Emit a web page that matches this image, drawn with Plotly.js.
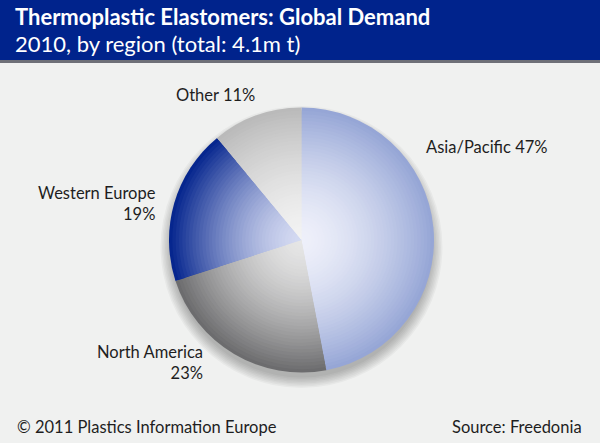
<!DOCTYPE html>
<html><head><meta charset="utf-8">
<script src="https://cdn.plot.ly/plotly-3.0.1.min.js"></script>
<style>html,body{margin:0;padding:0;background:#f0f1f0}</style>
</head><body>
<div id="chart" style="width:600px;height:443px"></div>
<script>
const regions = ["Asia/Pacific", "North America", "Western Europe", "Other"];
const shares = [47, 23, 19, 11];
const labelTexts = ["Asia/Pacific 47%", "North America<br>23%", "Western Europe<br>19%", "Other 11%"];

const W = 600, H = 443;
const cx = 301.5, cy = 240, R = 132.5;
const outerCols = [[150,166,214],[108,108,110],[6,38,142],[186,186,186]];
const innerCols = [[238,240,250],[230,230,230],[212,218,242],[242,242,242]];
const N = 40;
function mix(a,b,t){return 'rgb('+a.map((v,i)=>Math.round(v+(b[i]-v)*t)).join(',')+')';}
const traces = [];
for (let k = 0; k < N; k++) {
  const f = 1 - k / N;
  const r = R * f;
  const t = Math.pow(f, 1.6);
  traces.push({
    type: 'pie', labels: regions, values: shares, sort: false,
    direction: 'clockwise', rotation: 0,
    textinfo: 'none', hoverinfo: k === 0 ? 'label+percent' : 'skip',
    showlegend: false,
    marker: {colors: outerCols.map((o,i)=>mix(innerCols[i], o, t)), line: {width: 0}},
    domain: {x: [(cx - r) / W, (cx + r) / W], y: [(H - cy - r) / H, (H - cy + r) / H]}
  });
}
const shapes = [
  {type:'rect', xref:'paper', yref:'paper', x0:0, x1:1, y0:(H-63)/H, y1:(H-60)/H, fillcolor:'#6e7078', line:{width:0}, layer:'below'},
  {type:'rect', xref:'paper', yref:'paper', x0:0, x1:1, y0:(H-60)/H, y1:1, fillcolor:'#00238c', line:{width:0}, layer:'below'}
];
for (let s = 0; s < 8; s++) {
  const rr = R - 2 + s * 1.5, dy = 7;
  shapes.push({type:'circle', xref:'paper', yref:'paper', layer:'below',
    x0:(cx-rr)/W, x1:(cx+rr)/W, y0:(H-cy-dy-rr)/H, y1:(H-cy-dy+rr)/H,
    fillcolor:'rgba(0,0,0,0.035)', line:{width:0}});
}
const font = 'Lato, "Open Sans", sans-serif';
const ann = (text,x,y,xa,size,opts={}) => Object.assign({text, xref:'paper', yref:'paper', x:x/W, y:1-y/H, xanchor:xa, yanchor:'middle', showarrow:false, font:{family:font, size:size, color:'#1e1e1e'}}, opts);
const annotations = [
  ann('<b>Thermoplastic Elastomers: Global Demand</b>', 13, 17, 'left', 22, {font:{family:font,size:22,color:'#ffffff'}}),
  ann('2010, by region (total: 4.1m t)', 13, 44, 'left', 22, {font:{family:font,size:22,color:'#ffffff'}}),
  ann(labelTexts[0], 424, 147, 'left', 16.5),
  ann(labelTexts[1], 205, 362, 'right', 16.5, {align:'right'}),
  ann(labelTexts[2], 158, 203, 'right', 16.5, {align:'right'}),
  ann(labelTexts[3], 174, 95, 'left', 16.5),
  ann('© 2011 Plastics Information Europe', 15, 427, 'left', 16.5),
  ann('Source: Freedonia', 584, 427, 'right', 16.5)
];
Plotly.newPlot('chart', traces, {
  width: W, height: H, margin: {l:0, r:0, t:0, b:0},
  paper_bgcolor: '#f0f1f0', plot_bgcolor: '#f0f1f0',
  shapes, annotations, showlegend: false
}, {displayModeBar: false, staticPlot: true});
</script>
</body></html>
